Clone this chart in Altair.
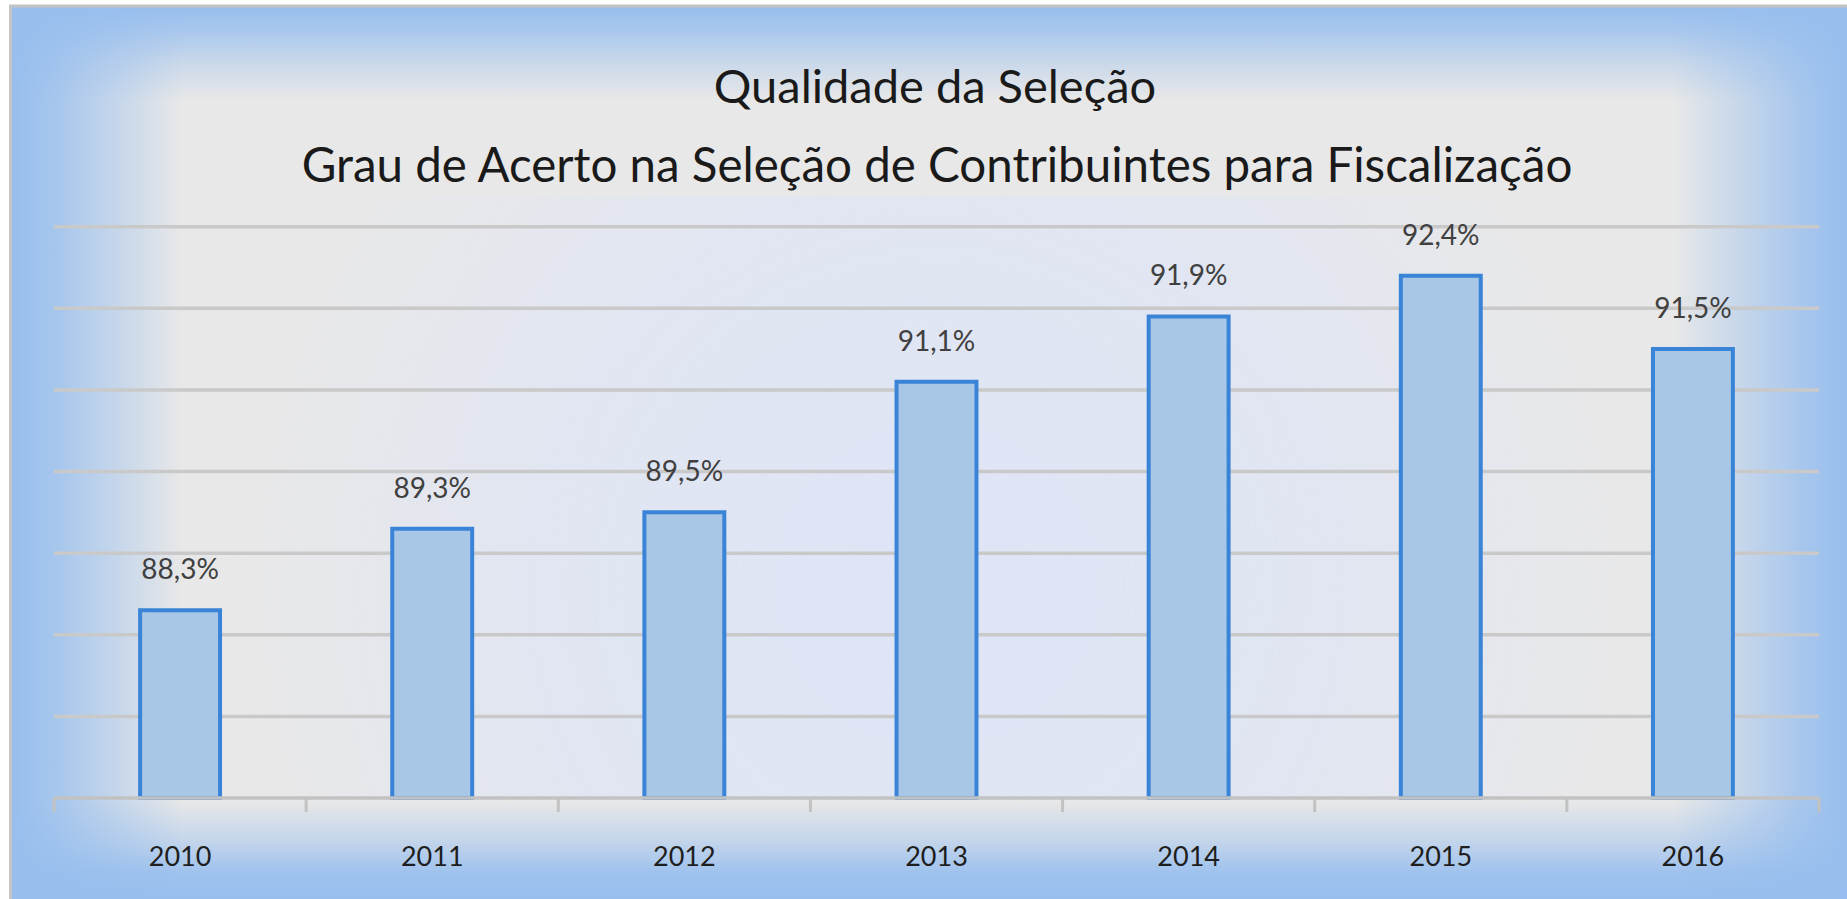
import altair as alt
import pandas as pd

# ---- data ----
years = ["2010", "2011", "2012", "2013", "2014", "2015", "2016"]
values = [88.3, 89.3, 89.5, 91.1, 91.9, 92.4, 91.5]
grid_values = [87, 88, 89, 90, 91, 92, 93]
y_min, y_max = 86, 93
title_lines = [
    "Qualidade da Seleção",
    "Grau de Acerto na Seleção de Contribuintes para Fiscalização",
]

# ---- layout (pixels, view relative) ----
W, H = 1839, 895
PLOT_X0, PLOT_X1 = 46, 1811
PLOT_Y_BOTTOM, PLOT_Y_TOP = 794, 222.7
STEP = (PLOT_X1 - PLOT_X0) / len(years)
FONT = "Lato"
BLUE = "151,190,238"

df = pd.DataFrame({
    "year": years,
    "value": values,
    "base": [y_min] * len(years),
    "label": [f"{v:.1f}%".replace(".", ",") for v in values],
})
gdf = pd.DataFrame({"g": grid_values})
bdf = pd.DataFrame({"g": [y_min]})
one = pd.DataFrame({"k": [0]})

xscale = alt.Scale(domain=years, range=[PLOT_X0, PLOT_X1],
                   paddingInner=0.683, paddingOuter=0.3415)
yscale = alt.Scale(domain=[y_min, y_max], range=[PLOT_Y_BOTTOM, PLOT_Y_TOP],
                   nice=False, zero=False)

X = alt.X("year:N", scale=xscale, axis=None)


def stops(pairs):
    return [alt.GradientStop(color=f"rgba({BLUE},{a})", offset=o) for o, a in pairs]


full = dict(x=alt.value(4), x2=alt.value(W), y=alt.value(3), y2=alt.value(H))

base_rect = alt.Chart(one).mark_rect(color="#E8E8E8").encode(**full)

center_glow = alt.Chart(one).mark_rect(
    color=alt.RadialGradient(
        gradient="radial", x1=0.5, y1=0.55, r1=0, x2=0.5, y2=0.55, r2=0.5,
        stops=[alt.GradientStop(color="rgba(220,228,250,0.8)", offset=0),
               alt.GradientStop(color="rgba(220,228,250,0.55)", offset=0.45),
               alt.GradientStop(color="rgba(220,228,250,0)", offset=0.8)])
).encode(x=alt.value(PLOT_X0), x2=alt.value(PLOT_X1),
         y=alt.value(PLOT_Y_TOP - 30), y2=alt.value(PLOT_Y_BOTTOM))

h_grad = alt.Chart(one).mark_rect(
    color=alt.LinearGradient(
        gradient="linear", x1=0, x2=1, y1=0, y2=0,
        stops=stops([(0, 1), (0.025, 0.8), (0.055, 0.45), (0.093, 0),
                     (0.905, 0), (0.945, 0.45), (0.975, 0.8), (1, 1)]))
).encode(**full)

v_grad = alt.Chart(one).mark_rect(
    color=alt.LinearGradient(
        gradient="linear", x1=0, x2=0, y1=0, y2=1,
        stops=stops([(0, 1), (0.03, 0.75), (0.06, 0.4), (0.105, 0),
                     (0.89, 0), (0.935, 0.45), (0.97, 0.9), (1, 1)]))
).encode(**full)

frame_left = alt.Chart(one).mark_rule(color="#C4C4C4", strokeWidth=3).encode(
    x=alt.value(2.5), y=alt.value(1), y2=alt.value(H))
frame_top = alt.Chart(one).mark_rule(color="#C4C4C4", strokeWidth=3).encode(
    x=alt.value(1), x2=alt.value(W), y=alt.value(2))

grid = alt.Chart(gdf).mark_rule(color="#C9C9C9", strokeWidth=3.5).encode(
    y=alt.Y("g:Q", scale=yscale, axis=None),
    x=alt.value(PLOT_X0), x2=alt.value(PLOT_X1))

bars = alt.Chart(df).mark_bar(fill="#A8C7E6", stroke="#3A84D8", strokeWidth=4).encode(
    x=X, y=alt.Y("value:Q", scale=yscale, axis=None), y2="base:Q")

baseline = alt.Chart(bdf).mark_rule(color="#C2C2C2", strokeWidth=3.5).encode(
    y=alt.Y("g:Q", scale=yscale, axis=None),
    x=alt.value(PLOT_X0), x2=alt.value(PLOT_X1))

ticks_left = alt.Chart(df).mark_rule(color="#C2C2C2", strokeWidth=3, xOffset=-STEP / 2).encode(
    x=X, y=alt.Y("base:Q", scale=yscale, axis=None), y2=alt.value(808))
ticks_right = alt.Chart(df).transform_filter(
    alt.datum.year == years[-1]
).mark_rule(color="#C2C2C2", strokeWidth=3, xOffset=STEP / 2).encode(
    x=X, y=alt.Y("base:Q", scale=yscale, axis=None), y2=alt.value(808))

value_labels = alt.Chart(df).mark_text(
    font=FONT, fontSize=28, color="#404040", dy=-31, baseline="alphabetic", align="center"
).encode(x=X, y=alt.Y("value:Q", scale=yscale, axis=None), text="label:N")

year_labels = alt.Chart(df).mark_text(
    font=FONT, fontSize=27, color="#1E1E1E", baseline="alphabetic", align="center"
).encode(x=X, y=alt.value(862), text="year:N")

title1 = alt.Chart(one).mark_text(
    text=title_lines[0], font=FONT, fontSize=47, color="#1A1A1A",
    baseline="alphabetic", align="center"
).encode(x=alt.value(927), y=alt.value(99))
title2 = alt.Chart(one).mark_text(
    text=title_lines[1], font=FONT, fontSize=47.5, color="#1A1A1A",
    baseline="alphabetic", align="center"
).encode(x=alt.value(929), y=alt.value(178))

chart = alt.layer(
    base_rect, center_glow, h_grad, v_grad, frame_left, frame_top,
    grid, bars, baseline, ticks_left, ticks_right,
    value_labels, year_labels, title1, title2,
).properties(
    width=W, height=H,
    padding={"left": 8, "top": 4, "right": 0, "bottom": 0},
    autosize=alt.AutoSizeParams(type="none"),
    background="white",
).configure_view(stroke=None)

chart.save("out.html", embed_options={"renderer": "svg", "actions": False})
